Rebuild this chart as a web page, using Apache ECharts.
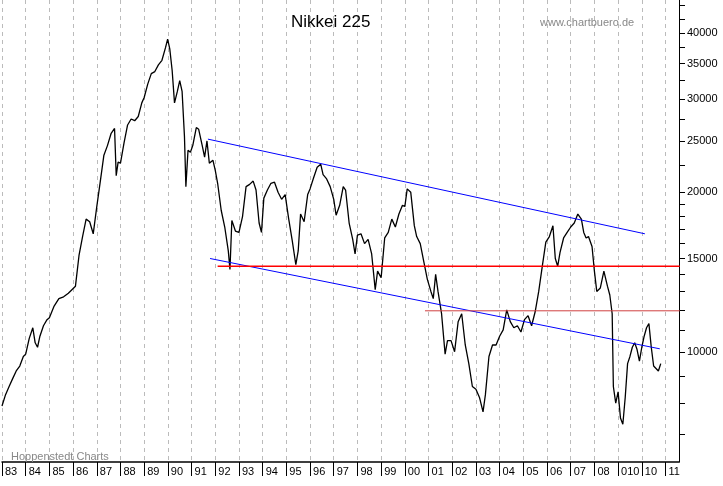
<!DOCTYPE html>
<html>
<head>
<meta charset="utf-8">
<script src="https://cdn.jsdelivr.net/npm/echarts@6/dist/echarts.min.js"></script>
<style>html,body{margin:0;padding:0;background:#fff}#chart{width:723px;height:486px}</style>
</head>
<body>
<div id="chart"></div>
<script>
// nikkei, [year, close]
let years = [1983,1983.15,1983.3,1983.45,1983.6,1983.75,1983.9,1984.0,1984.15,1984.3,1984.4,1984.5,1984.6,1984.75,1984.9,
  1985.0,1985.2,1985.4,1985.6,1985.8,1985.95,1986.1,1986.25,1986.4,1986.55,1986.7,1986.85,1987.0,1987.15,1987.3,1987.45,1987.6,1987.75,1987.82,1987.9,
  1988.0,1988.15,1988.3,1988.45,1988.6,1988.75,1988.9,1989.0,1989.15,1989.3,1989.45,1989.6,1989.75,1989.9,1989.99,
  1990.08,1990.18,1990.28,1990.4,1990.5,1990.6,1990.7,1990.76,1990.85,1990.95,1991.05,1991.2,1991.3,1991.45,1991.55,1991.65,1991.75,1991.9,
  1992.0,1992.1,1992.25,1992.4,1992.55,1992.62,1992.7,1992.85,1993.0,1993.15,1993.3,1993.45,1993.6,1993.72,1993.85,1993.95,
  1994.05,1994.2,1994.35,1994.5,1994.65,1994.8,1994.95,1995.1,1995.25,1995.4,1995.5,1995.6,1995.75,1995.9,1996.0,
  1996.15,1996.3,1996.45,1996.55,1996.7,1996.85,1997.0,1997.1,1997.25,1997.4,1997.5,1997.65,1997.8,1997.9,1998.0,
  1998.15,1998.3,1998.45,1998.6,1998.75,1998.85,1999.0,1999.15,1999.3,1999.45,1999.6,1999.75,1999.9,2000.0,2000.1,2000.25,
  2000.4,2000.5,2000.65,2000.8,2000.95,2001.1,2001.2,2001.3,2001.4,2001.55,2001.7,2001.8,2001.95,2002.1,2002.25,2002.4,2002.55,2002.7,2002.85,
  2003.0,2003.15,2003.3,2003.4,2003.55,2003.7,2003.85,2004.0,2004.15,2004.3,2004.45,2004.6,2004.75,2004.9,2005.05,2005.2,2005.35,2005.5,2005.65,2005.8,2005.95,
  2006.1,2006.25,2006.35,2006.45,2006.55,2006.7,2006.85,2007.0,2007.15,2007.3,2007.45,2007.55,2007.65,2007.75,2007.9,2008.0,2008.1,2008.25,2008.4,2008.55,
  2008.65,2008.75,2008.8,2008.9,2009.0,2009.1,2009.2,2009.3,2009.4,2009.5,2009.6,2009.7,2009.8,2009.9,2010.0,2010.1,2010.2,2010.3,2010.4,2010.5,2010.6,2010.7,2010.8];
let closes = [7900,8300,8600,8900,9200,9400,9800,9900,10600,11100,10400,10200,10700,11200,11500,
  11600,12200,12600,12700,12900,13100,13300,15200,16500,17800,17600,16700,18800,21000,23500,24500,25800,26400,21500,22800,
  22700,24800,26800,27500,27300,27800,29500,30200,32000,33500,33800,34800,35500,37500,38900,
  37300,34000,29500,31000,32500,31000,25500,20500,24000,23800,24500,26500,26300,24500,23300,25000,22700,23000,
  22000,20800,18500,17200,15500,14300,17700,16900,16800,18000,20500,20700,21000,20200,17500,16800,
  19500,20200,20800,20900,20000,19400,19800,17800,16200,14600,15500,18200,17600,19800,20300,
  21300,22300,22600,21600,21200,20500,19400,18100,18900,20500,20200,17500,16300,15300,16600,
  16700,16000,16300,15300,13100,14200,13800,16400,16800,17800,17200,18200,18900,18800,20300,20000,
  17300,16500,16000,14800,13700,13000,12600,14000,13000,11800,9900,10500,10500,10000,11400,11800,10300,9500,8600,
  8500,8200,7700,8300,9800,10300,10300,10700,11000,12000,11400,11100,11200,10900,11500,11700,11200,11900,13000,14500,16100,
  16500,17300,15000,14500,15400,16400,16800,17200,17500,18200,17800,16800,16400,16500,15800,14200,13000,13200,14200,13300,
  12800,11800,8600,8000,8400,7500,7300,8200,9500,9800,10200,10400,10100,9600,10200,10700,11100,11300,10200,9400,9300,9200,9500];

let channel_top = [[1991.69,25200],[2010.13,16700]];
let channel_bottom = [[1991.78,15000],[2010.76,10130]];
let support_1 = [[1992.1,14500],[2011.6,14500]];
let support_2 = [[2000.85,11950],[2011.6,11950]];

let x_labels = ['83','84','85','86','87','88','89','90','91','92','93','94','95','96','97','98','99','00','01','02','03','04','05','06','07','08','010','10','11'];
let y_labels = [10000,15000,20000,25000,30000,35000,40000];
let y_ticks = [6000,7000,8000,9000,10000,11000,12000,13000,14000,15000,16000,17000,18000,19000,20000,22500,25000,27500,30000,32500,35000,37500,40000,42500,45000];

let lg = v => Math.log10(v);
let line_data = years.map((y,i) => [y, lg(closes[i])]);
let seg = arr => arr.map(p => [p[0], lg(p[1])]);

let myChart = echarts.init(document.getElementById('chart'));
let option = {
    animation: false,
    textStyle: {fontFamily: 'Liberation Sans, Arial'},
    title: [
        {text: 'Nikkei 225', left: 286, top: 9, textStyle: {fontSize: 17, fontWeight: 'normal', color: '#000'}},
        {text: 'www.chartbuero.de', left: 535, top: 12, textStyle: {fontSize: 11, fontWeight: 'normal', color: '#888'}},
        {text: 'Hoppenstedt Charts', left: 6, top: 446, textStyle: {fontSize: 11, fontWeight: 'normal', color: '#888'}}
    ],
    grid: {left: 2, right: 44, top: 0, bottom: 24},
    xAxis: {
        type: 'value', min: 1983, max: 2011.57,
        axisLine: {lineStyle: {color: '#000', width: 1.5}},
        axisTick: {show: true, customValues: x_labels.map((d,i) => 1983+i), length: 14, lineStyle: {color: '#000'}},
        axisLabel: {
            customValues: x_labels.map((d,i) => 1983+i),
            formatter: v => x_labels[Math.round(v-1983)],
            align: 'left', margin: 4, padding: [0,0,0,3], fontSize: 11, color: '#000'
        },
        splitLine: {show: true, lineStyle: {color: '#bbb', type: [4,4]}}
    },
    yAxis: {
        type: 'value', position: 'right', min: 3.792, max: 4.664,
        axisLine: {show: true, lineStyle: {color: '#000'}},
        axisTick: {show: true, customValues: y_ticks.map(lg), length: 6, lineStyle: {color: '#000'}},
        axisLabel: {customValues: y_labels.map(lg), formatter: v => String(Math.round(Math.pow(10, v)/100)*100), margin: 8, fontSize: 11, color: '#000'},
        splitLine: {show: false}
    },
    series: [
        {type: 'line', data: line_data, symbol: 'none', lineStyle: {color: '#000', width: 1.3}},
        {type: 'line', data: seg(channel_top), symbol: 'none', lineStyle: {color: '#0000ff', width: 1}},
        {type: 'line', data: seg(channel_bottom), symbol: 'none', lineStyle: {color: '#0000ff', width: 1}},
        {type: 'line', data: seg(support_1), symbol: 'none', lineStyle: {color: '#ff0000', width: 1.5}},
        {type: 'line', data: seg(support_2), symbol: 'none', lineStyle: {color: '#d04040', width: 1}}
    ]
};
myChart.setOption(option);
</script>
</body>
</html>
